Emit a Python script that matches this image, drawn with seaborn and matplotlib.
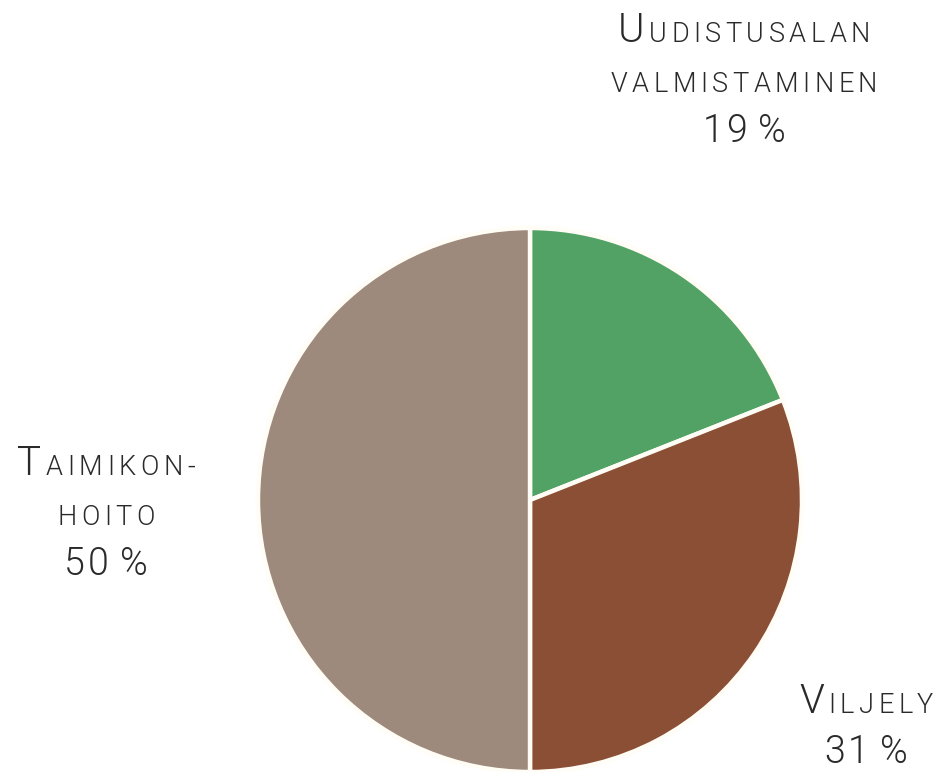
import matplotlib
matplotlib.use("Agg")
import matplotlib.pyplot as plt
import seaborn as sns

sns.set_style("white")
plt.rcParams["font.family"] = ["Roboto", "DejaVu Sans"]

# data
categories = ["Uudistusalan valmistaminen", "Viljely", "Taimikonhoito"]
shares = [19, 31, 50]
colors = ["#52a265", "#8a4f34", "#9e8a7c"]

# label lines: (text, big first letter?) per line, small caps imitation
label_lines = {
    "Uudistusalan valmistaminen": [["Uudistusalan", True], ["valmistaminen", False]],
    "Viljely": [["Viljely", True]],
    "Taimikonhoito": [["Taimikon-", True], ["hoito", False]],
}
# label anchor (figure px, x centre / y baseline of first line)
label_pos = {
    "Uudistusalan valmistaminen": (744, 42),
    "Viljely": (866, 713),
    "Taimikonhoito": (106, 475),
}
line_gap = 50

W, H = 937, 772
fig = plt.figure(figsize=(W / 100, H / 100), dpi=100)

cx, cy, r = 530, 500, 272
ax = fig.add_axes([(cx - r) / W, (H - cy - r) / H, 2 * r / W, 2 * r / H])
wedges, _ = ax.pie(
    shares,
    colors=colors,
    startangle=90,
    counterclock=False,
    radius=1,
    wedgeprops=dict(edgecolor="#fffdf6", linewidth=3.2),
)
for w in wedges:
    w.set_clip_on(False)
ax.set_xlim(-1, 1)
ax.set_ylim(-1, 1)
ax.set_aspect("equal")
ax.axis("off")

renderer = fig.canvas.get_renderer()
txt_color = "#2a2a2a"
big, small, num = 29, 19.5, 27
tracking = 4.5


def put_line(xc, yb, segments, track):
    # draw each character, spaced out, then centre the whole line on xc
    items = []
    x = 0
    for s, size in segments:
        for ch in s:
            if ch == " ":
                x += size * 0.3
                continue
            t = fig.text(0, 1 - yb / H, ch, fontsize=size, color=txt_color,
                         fontweight=300, ha="left", va="baseline")
            bb = t.get_window_extent(renderer)
            items.append((t, x))
            x += bb.width + track
    total = x - track
    for t, off in items:
        t.set_x((xc - total / 2 + off) / W)


for cat, share in zip(categories, shares):
    xc, yb = label_pos[cat]
    lines = label_lines[cat]
    for i, (word, cap) in enumerate(lines):
        if cap:
            segs = [(word[0].upper(), big), (word[1:].upper(), small)]
        else:
            segs = [(word.upper(), small)]
        put_line(xc, yb + i * line_gap, segs, tracking)
    put_line(xc, yb + len(lines) * line_gap, [(f"{share} %", num)], 3)

fig.savefig("out.png", dpi=100, facecolor="white")
